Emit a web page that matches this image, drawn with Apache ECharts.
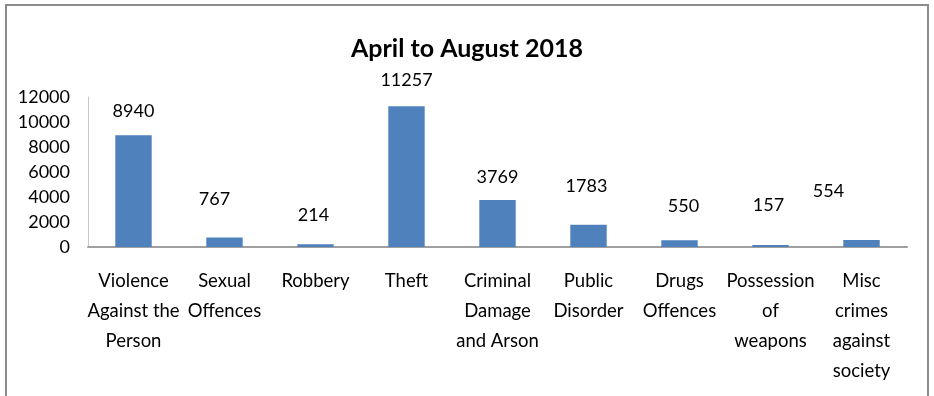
<!DOCTYPE html>
<html>
<head>
<meta charset="utf-8">
<script src="https://cdn.jsdelivr.net/npm/echarts@6/dist/echarts.min.js"></script>
<style>
  html, body { margin: 0; padding: 0; background: #fff; }
  #chart { width: 934px; height: 396px; }
</style>
</head>
<body>
<div id="chart"></div>
<script>
// Recorded crimes by category, April to August 2018
const categories = [
  'Violence\nAgainst the\nPerson',
  'Sexual\nOffences',
  'Robbery',
  'Theft',
  'Criminal\nDamage\nand Arson',
  'Public\nDisorder',
  'Drugs\nOffences',
  'Possession\nof\nweapons',
  'Misc\ncrimes\nagainst\nsociety'
];
const crimeCounts = [8940, 767, 214, 11257, 3769, 1783, 550, 157, 554];
const yTicks = [0, 2000, 4000, 6000, 8000, 10000, 12000];

// Hand-placed value labels: gap above the bar and sideways nudge (px)
const labelGap = [15, 29, 20, 17, 14, 30, 25, 31, 40];
const labelNudgeX = [0, -10, -2, 0, 0, -2, 4, -2, -33];

const FONT = 'Lato';

const chart = echarts.init(document.getElementById('chart'), null, { renderer: 'canvas' });

const seriesData = crimeCounts.map((v, i) => ({
  value: v,
  label: { distance: labelGap[i], offset: [labelNudgeX[i], 0] }
}));

chart.setOption({
  animation: false,
  backgroundColor: '#ffffff',
  title: {
    text: 'April to August 2018',
    left: 'center',
    top: 31,
    textStyle: { fontFamily: FONT, fontWeight: 'bold', fontSize: 25, color: '#000' }
  },
  graphic: [{
    type: 'rect',
    shape: { x: 6, y: 5, width: 922, height: 420 },
    style: { fill: 'none', stroke: '#8c8c8c', lineWidth: 2 },
    silent: true,
    z: -1
  }],
  grid: { left: 88, right: 27, top: 97, bottom: 149, containLabel: false },
  xAxis: {
    type: 'category',
    data: categories,
    axisLine: { show: true, lineStyle: { color: '#a0a0a0', width: 2 } },
    axisTick: { show: false },
    axisLabel: {
      interval: 0,
      margin: 19,
      fontFamily: FONT,
      fontSize: 18.5,
      lineHeight: 30,
      color: '#000',
      align: 'center'
    }
  },
  yAxis: {
    type: 'value',
    min: yTicks[0],
    max: yTicks[yTicks.length - 1],
    interval: yTicks[1] - yTicks[0],
    axisLine: { show: true, lineStyle: { color: '#c8c8c8', width: 1 } },
    axisTick: { show: false },
    splitLine: { show: false },
    axisLabel: {
      margin: 18,
      fontFamily: FONT,
      fontSize: 18,
      color: '#000',
      formatter: (v) => String(v)
    }
  },
  series: [{
    type: 'bar',
    data: seriesData,
    barWidth: '40%',
    itemStyle: { color: '#4f81bd' },
    label: {
      show: true,
      position: 'top',
      fontFamily: FONT,
      fontSize: 18,
      color: '#000'
    }
  }]
});
</script>
</body>
</html>
